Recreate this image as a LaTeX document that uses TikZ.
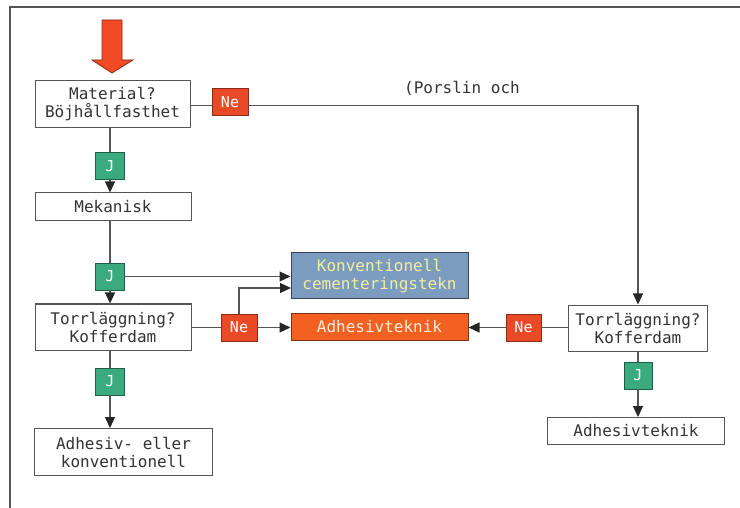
\documentclass[tikz,border=0pt]{standalone}
\usepackage{fontspec}
\setmonofont{DejaVu Sans Mono}
\usetikzlibrary{arrows.meta}
\definecolor{linegray}{HTML}{555555}
\definecolor{nered}{HTML}{E84A27}
\definecolor{neredb}{HTML}{8E2A18}
\definecolor{jgreen}{HTML}{3BAB7F}
\definecolor{jgreenb}{HTML}{1F5F45}
\definecolor{konvblue}{HTML}{7B9CBE}
\definecolor{konvblueb}{HTML}{3A4656}
\definecolor{konvtext}{HTML}{F3EDA0}
\definecolor{adhorange}{HTML}{F26122}
\definecolor{adhorangeb}{HTML}{7A3318}
\definecolor{adhtext}{HTML}{FBEEDC}
\definecolor{bigred}{HTML}{F04B25}
\definecolor{bigredb}{HTML}{8A2A1A}
\tikzset{
  txt/.style={font=\ttfamily\fontsize{16}{18}\selectfont, text=black!80},
  whitebox/.style={txt, draw=linegray, line width=1pt, fill=white, align=center, inner sep=0pt},
  nebox/.style={draw=neredb, line width=0.9pt, fill=nered, text=white, font=\ttfamily\fontsize{15}{17}\selectfont, minimum width=36pt, minimum height=27pt, inner sep=0pt},
  jbox/.style={draw=jgreenb, line width=0.9pt, fill=jgreen, text=white, font=\ttfamily\fontsize{15}{17}\selectfont, minimum width=29pt, minimum height=27pt, inner sep=0pt},
  conn/.style={draw=linegray, line width=1.1pt},
  arr/.style={conn, -{Triangle[length=11pt,width=10pt,fill=black!85,color=black!85]}},
}
\begin{document}
\begin{tikzpicture}[x=1pt,y=-1pt]
\useasboundingbox (0,0) rectangle (740,508);
% frame
\coordinate (f1) at (740,7);
\coordinate (f2) at (10,7);
\coordinate (f3) at (10,508);
\draw[linegray, line width=1.1pt] (f1) -- (f2) -- (f3);
% big red arrow
\draw[fill=bigred, draw=bigredb, line width=0.8pt]
  (102,20) -- (122,20) -- (122,60) -- (133,60) -- (112,73) -- (92,60) -- (102,60) -- cycle;
% nodes
\node[whitebox, minimum width=155pt, minimum height=47pt] (mat) at (112.5,104.5) {Material?\\Böjhållfasthet};
\node[nebox] (ne1) at (230,102) {Ne};
\node[txt, anchor=center] (pors) at (462,88) {(Porslin och};
\node[jbox] (j1) at (110,166) {J};
\node[whitebox, minimum width=156pt, minimum height=28pt] (mek) at (113,207) {Mekanisk};
\node[jbox] (j2) at (110,276.5) {J};
\node[whitebox, fill=konvblue, draw=konvblueb, text=konvtext, minimum width=177pt, minimum height=46pt] (konv) at (379.5,276) {Konventionell\\cementeringstekn};
\node[whitebox, fill=adhorange, draw=adhorangeb, text=adhtext, minimum width=177pt, minimum height=27pt] (adh) at (379.5,327) {Adhesivteknik};
\node[whitebox, minimum width=156pt, minimum height=46pt] (tl) at (113,327) {Torrläggning?\\Kofferdam};
\node[nebox] (ne2) at (239,327.5) {Ne};
\node[whitebox, minimum width=139pt, minimum height=46pt] (tr) at (638,328) {Torrläggning?\\Kofferdam};
\node[nebox, minimum width=35pt] (ne3) at (523.5,327.5) {Ne};
\node[jbox, minimum width=28pt] (jr) at (638,375.5) {J};
\node[whitebox, minimum width=177pt, minimum height=27pt] (adhr) at (636,431) {Adhesivteknik};
\node[jbox] (jl) at (110,381.5) {J};
\node[whitebox, minimum width=178pt, minimum height=47pt] (adhk) at (123.5,452) {Adhesiv- eller\\konventionell};
% connectors
\coordinate (c1) at (638,105.5);
\draw[conn] (mat.east |- c1) -- (ne1.west |- c1);
\draw[arr] (ne1.east |- c1) -- (c1) -- (tr.north);
\draw[conn] (j1 |- mat.south) -- (j1.north);
\draw[arr] (j1.south) -- (j1 |- mek.north);
\draw[conn] (j2 |- mek.south) -- (j2.north);
\draw[arr] (j2.south) -- (j2 |- tl.north);
\draw[arr] (j2.east) -- (j2.east -| konv.west);
\draw[conn] (tl.east |- ne2) -- (ne2.west);
\draw[arr] (ne2.east) -- (adh.west |- ne2);
\coordinate (c2) at (291,288);
\draw[arr] (ne2.north) |- (c2);
\draw[conn] (tr.west |- ne3) -- (ne3.east);
\draw[arr] (ne3.west) -- (adh.east |- ne3);
\draw[conn] (jr |- tr.south) -- (jr.north);
\draw[arr] (jr.south) -- (jr |- adhr.north);
\draw[conn] (jl |- tl.south) -- (jl.north);
\draw[arr] (jl.south) -- (jl |- adhk.north);
\end{tikzpicture}
\end{document}
